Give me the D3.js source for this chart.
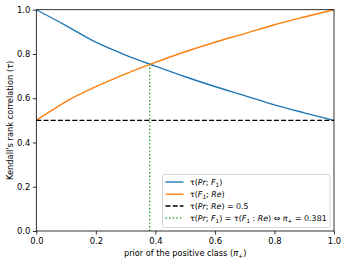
<!DOCTYPE html>
<html>
<head>
<meta charset="utf-8">
<script src="https://cdn.jsdelivr.net/npm/d3@7"></script>
<style>
  body { margin: 0; background: #fff; }
  text { font-family: "DejaVu Sans", sans-serif; fill: #000; }
</style>
</head>
<body>
<svg width="347" height="264"></svg>
<script>
// values
const priors = [0, 0.1, 0.2, 0.3, 0.4, 0.5, 0.6, 0.7, 0.8, 0.9, 1.0];
const tauPrF1 = [1.0, 0.928, 0.853, 0.795, 0.745, 0.697, 0.653, 0.612, 0.570, 0.534, 0.5];
const tauF1Re = [0.5, 0.585, 0.652, 0.710, 0.762, 0.810, 0.853, 0.892, 0.932, 0.967, 1.0];
const tauPrRe = 0.5;
const crossPrior = 0.381;
const crossTau = 0.751;
const ticks = [0, 0.2, 0.4, 0.6, 0.8, 1.0];

const svg = d3.select("svg"),
      margin = {top: 9.7, right: 13, bottom: 33, left: 36.3},
      width = 347,
      height = 264;

const x = d3.scaleLinear().domain([0, 1]).range([margin.left, width - margin.right]);
const y = d3.scaleLinear().domain([0, 1]).range([height - margin.bottom, margin.top]);

const line = d3.line().x(d => x(d[0])).y(d => y(d[1])).curve(d3.curveMonotoneX);

// curves
svg.append("path")
    .datum(priors.map((p, i) => [p, tauPrF1[i]]))
    .attr("d", line).attr("fill", "none")
    .attr("stroke", "#1f77b4").attr("stroke-width", 1.4);

svg.append("path")
    .datum(priors.map((p, i) => [p, tauF1Re[i]]))
    .attr("d", line).attr("fill", "none")
    .attr("stroke", "#ff7f0e").attr("stroke-width", 1.4);

svg.append("line")
    .attr("x1", x(0)).attr("x2", x(1))
    .attr("y1", y(tauPrRe)).attr("y2", y(tauPrRe))
    .attr("stroke", "#000").attr("stroke-width", 1.4)
    .attr("stroke-dasharray", "5,2.2");

svg.append("line")
    .attr("x1", x(crossPrior)).attr("x2", x(crossPrior))
    .attr("y1", y(0)).attr("y2", y(crossTau))
    .attr("stroke", "#2ca02c").attr("stroke-width", 1.4)
    .attr("stroke-dasharray", "1.4,2.2");

// axes
const xAxis = svg.append("g")
    .attr("transform", `translate(0,${y(0)})`)
    .call(d3.axisBottom(x).tickValues(ticks).tickFormat(d3.format(".1f")).tickSize(3.5).tickPadding(3.2));
const yAxis = svg.append("g")
    .attr("transform", `translate(${x(0)},0)`)
    .call(d3.axisLeft(y).tickValues(ticks).tickFormat(d3.format(".1f")).tickSize(3.5).tickPadding(2.5));
[xAxis, yAxis].forEach(g => {
    g.select(".domain").remove();
    g.selectAll("text").style("font-size", "8.4px").style("font-family", "DejaVu Sans").attr("fill", "#000");
    g.selectAll("line").attr("stroke", "#000").attr("stroke-width", 0.8);
});

// frame
svg.append("rect")
    .attr("x", x(0)).attr("y", y(1))
    .attr("width", x(1) - x(0)).attr("height", y(0) - y(1))
    .attr("fill", "none").attr("stroke", "#000").attr("stroke-width", 0.8);

// axis labels
const xl = svg.append("text")
    .attr("x", (x(0) + x(1)) / 2).attr("y", 255.5)
    .attr("text-anchor", "middle").style("font-size", "8.2px");
xl.append("tspan").text("prior of the positive class (");
xl.append("tspan").style("font-style", "italic").text("π");
xl.append("tspan").attr("baseline-shift", "-25%").style("font-size", "6px").text("+");
xl.append("tspan").text(")");

const yl = svg.append("text")
    .attr("transform", `translate(13,${(y(0) + y(1)) / 2}) rotate(-90)`)
    .attr("text-anchor", "middle").style("font-size", "8.3px");
yl.append("tspan").text("Kendall's rank correlation (");
yl.append("tspan").style("font-style", "italic").text("τ");
yl.append("tspan").text(")");

// legend
const legend = svg.append("g");
legend.append("rect")
    .attr("x", 162.5).attr("y", 174.5).attr("width", 167.5).attr("height", 53)
    .attr("rx", 2).attr("fill", "#fff").attr("fill-opacity", 0.8)
    .attr("stroke", "#ccc").attr("stroke-width", 0.8);

const entries = [
    {color: "#1f77b4", dash: null},
    {color: "#ff7f0e", dash: null},
    {color: "#000", dash: "5,2.2"},
    {color: "#2ca02c", dash: "1.4,2.2"}
];
const rowY = [182, 194.2, 206, 218];

entries.forEach((e, i) => {
    legend.append("line")
        .attr("x1", 165.5).attr("x2", 183.5)
        .attr("y1", rowY[i]).attr("y2", rowY[i])
        .attr("stroke", e.color).attr("stroke-width", 1.4)
        .attr("stroke-dasharray", e.dash);
});

function sub(t, s) {
    t.append("tspan").attr("baseline-shift", "-25%").style("font-size", "5.8px").text(s);
    t.append("tspan").attr("baseline-shift", "0").text("");
}
function it(t, s) { t.append("tspan").style("font-style", "italic").text(s); }
function rm(t, s) { t.append("tspan").text(s); }

function label(i) {
    return legend.append("text").attr("x", 190).attr("y", rowY[i] + 2.8).style("font-size", "7.9px");
}

let t = label(0);
rm(t, "τ("); it(t, "Pr"); rm(t, "; "); it(t, "F"); sub(t, "1"); rm(t, ")");

t = label(1);
rm(t, "τ("); it(t, "F"); sub(t, "1"); rm(t, "; "); it(t, "Re"); rm(t, ")");

t = label(2);
rm(t, "τ("); it(t, "Pr"); rm(t, "; "); it(t, "Re"); rm(t, ") = 0.5");

t = label(3);
rm(t, "τ("); it(t, "Pr"); rm(t, "; "); it(t, "F"); sub(t, "1"); rm(t, ") = τ(");
it(t, "F"); sub(t, "1"); rm(t, " : "); it(t, "Re"); rm(t, ") ⇔ "); it(t, "π"); sub(t, "+");
rm(t, " = " + crossPrior);
</script>
</body>
</html>
